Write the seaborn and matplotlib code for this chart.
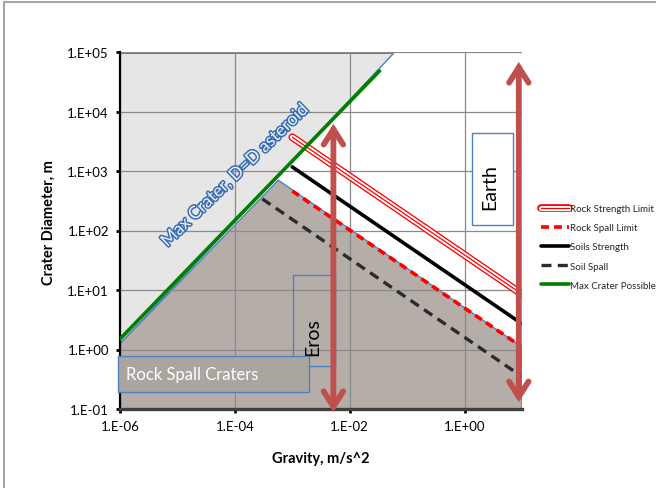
import matplotlib
matplotlib.use('Agg')
import matplotlib.pyplot as plt
import matplotlib.patheffects as pe
from matplotlib.patches import Rectangle
from matplotlib.lines import Line2D
import seaborn as sns

# ---------------- data ----------------
rock_strength_g = [1e-3, 10.0]
rock_strength_d = [3700.0, 8.5]
rock_spall_g = [1e-3, 10.0]
rock_spall_d = [460.0, 1.1]
soil_strength_g = [1e-3, 10.0]
soil_strength_d = [1170.0, 2.7]
soil_spall_g = [3e-4, 10.0]
soil_spall_d = [340.0, 0.35]
max_crater_g = [1e-6, 3.3e-2]
max_crater_d = [1.5, 4.8e4]

max_region_g = [1e-6, 5.8e-2, 1e-6]
max_region_d = [9.5e4, 9.5e4, 1.25]
spall_region_g = [1e-6, 1e-6, 5.7e-4, 10.0, 10.0]
spall_region_d = [0.1, 1.25, 700.0, 1.1, 0.1]

eros_arrow_g = 5.2e-3
eros_arrow_d = [0.089, 6200.0]
earth_arrow_g = 8.8
earth_arrow_d = [0.13, 6.8e4]

x_ticks = [1e-6, 1e-4, 1e-2, 1.0]
x_tick_labels = ['1.E-06', '1.E-04', '1.E-02', '1.E+00']
y_ticks = [1e-1, 1e0, 1e1, 1e2, 1e3, 1e4, 1e5]
y_tick_labels = ['1.E-01', '1.E+00', '1.E+01', '1.E+02', '1.E+03', '1.E+04', '1.E+05']
series_labels = ['Rock Strength Limit', 'Rock Spall Limit', 'Soils Strength',
                 'Soil Spall', 'Max Crater Possible']

# ---------------- style ----------------
sns.set_theme(style='white')
plt.rcParams['font.family'] = ['Lato', 'DejaVu Sans']

W, H = 656, 489
fig = plt.figure(figsize=(W / 100, H / 100), dpi=100)
fig.patch.set_facecolor('white')
ax = fig.add_axes([120 / W, 1 - 410 / H, 402 / W, 357 / H])
ax.set_xscale('log')
ax.set_yscale('log')
ax.set_xlim(1e-6, 10)
ax.set_ylim(0.1, 1e5)
ax.set_facecolor('white')

# regions
ax.fill(max_region_g, max_region_d, facecolor='#e6e6e6', edgecolor='#4f81bd',
        lw=1.0, zorder=1)
ax.fill(spall_region_g, spall_region_d, facecolor='#b5ada8', edgecolor='#4f81bd',
        lw=1.0, zorder=1.1)

# grid
ax.set_axisbelow('line')
ax.grid(True, which='major', color='#8a8a8a', lw=0.9, zorder=1.5)

# lines
red = '#ff0000'
sns.lineplot(x=rock_strength_g, y=rock_strength_d, ax=ax, color=red, lw=0.9,
             label=series_labels[0], solid_capstyle='round', zorder=3,
             path_effects=[pe.Stroke(linewidth=5.5, foreground=red),
                           pe.Stroke(linewidth=3.6, foreground='white'),
                           pe.Normal()])
sns.lineplot(x=rock_spall_g, y=rock_spall_d, ax=ax, color=red, lw=2.6,
             linestyle=(0, (2.2, 1.4)), label=series_labels[1], zorder=3)
sns.lineplot(x=soil_strength_g, y=soil_strength_d, ax=ax, color='black', lw=2.6,
             label=series_labels[2], zorder=3)
sns.lineplot(x=soil_spall_g, y=soil_spall_d, ax=ax, color='#2b2b2b', lw=2.4,
             linestyle=(0, (3.0, 1.9)), label=series_labels[3], zorder=3)
sns.lineplot(x=max_crater_g, y=max_crater_d, ax=ax, color='#008000', lw=2.6,
             label=series_labels[4], zorder=3)

handles, labels = ax.get_legend_handles_labels()
if ax.get_legend() is not None:
    ax.get_legend().remove()
fig.legend(handles, labels, loc='upper left', bbox_to_anchor=(541 / W, 1 - 205 / H),
           frameon=False, fontsize=7, handlelength=2.9, handletextpad=0.1,
           labelspacing=1.05, borderpad=0, borderaxespad=0)

# text boxes
ax.add_patch(Rectangle((0.876, 0.515), 0.102, 0.258, transform=ax.transAxes,
                       facecolor='white', edgecolor='#4f81bd', lw=1.0, zorder=4))
ax.text(0.920, 0.625, 'Earth', transform=ax.transAxes, rotation=90, fontsize=14,
        ha='center', va='center', color='black', zorder=5)
ax.add_patch(Rectangle((0.430, 0.120), 0.104, 0.255, transform=ax.transAxes,
                       facecolor='none', edgecolor='#4f81bd', lw=1.0, zorder=4))
ax.text(0.480, 0.2045, 'Eros', transform=ax.transAxes, rotation=90, fontsize=14,
        ha='center', va='center', color='black', zorder=5)

# arrows
arrow_color = '#c0504d'
for g, (d0, d1) in ((eros_arrow_g, eros_arrow_d), (earth_arrow_g, earth_arrow_d)):
    ax.annotate('', xy=(g, d1), xytext=(g, d0),
                arrowprops=dict(arrowstyle='<->,head_length=0.55,head_width=0.35',
                                color=arrow_color, lw=4.2, mutation_scale=20,
                                shrinkA=0, shrinkB=0, joinstyle='miter'),
                zorder=6, annotation_clip=False)

ax.add_patch(Rectangle((-0.005, 0.048), 0.475, 0.101, transform=ax.transAxes,
                       facecolor='#aaa69f', edgecolor='#4f81bd', lw=1.0, zorder=7,
                       clip_on=False))
ax.text(0.015, 0.098, 'Rock Spall Craters', transform=ax.transAxes, fontsize=12,
        ha='left', va='center', color='white', zorder=8)

ax.text(0.286, 0.655, 'Max Crater, D=D asteroid', transform=ax.transAxes,
        rotation=44, rotation_mode='anchor', fontsize=12.5, ha='center', va='center',
        color='#eef3fa', zorder=5,
        path_effects=[pe.Stroke(linewidth=2.2, foreground='#3a6eb5'), pe.Normal()])

# axes
ax.set_xticks(x_ticks)
ax.set_xticklabels(x_tick_labels)
ax.set_yticks(y_ticks)
ax.set_yticklabels(y_tick_labels)
ax.minorticks_off()
ax.tick_params(axis='both', which='major', direction='out', length=3, width=2,
               color='black', labelsize=9.5, labelcolor='black', pad=5,
               bottom=True, left=True)
for side in ('top', 'right'):
    ax.spines[side].set_visible(False)
ax.spines['left'].set_color('black')
ax.spines['left'].set_linewidth(1.6)
ax.spines['bottom'].set_color('#404040')
ax.spines['bottom'].set_linewidth(2.4)

ax.set_xlabel('Gravity, m/s^2', fontsize=10.5, fontweight='bold', color='black')
ax.xaxis.set_label_coords(0.5, -0.118)
ax.set_ylabel('Crater Diameter, m', fontsize=10.5, fontweight='bold', color='black')
ax.yaxis.set_label_coords(-0.16, 0.524)

# slide frame
fig.add_artist(Line2D([3.5 / W, 1.0], [1 - 2.5 / H, 1 - 2.5 / H], transform=fig.transFigure,
                      color='#a6a6a6', lw=1.5))
fig.add_artist(Line2D([3.5 / W, 3.5 / W], [0.0, 1 - 2.5 / H], transform=fig.transFigure,
                      color='#a6a6a6', lw=1.5))

fig.savefig('out.png', dpi=100)
